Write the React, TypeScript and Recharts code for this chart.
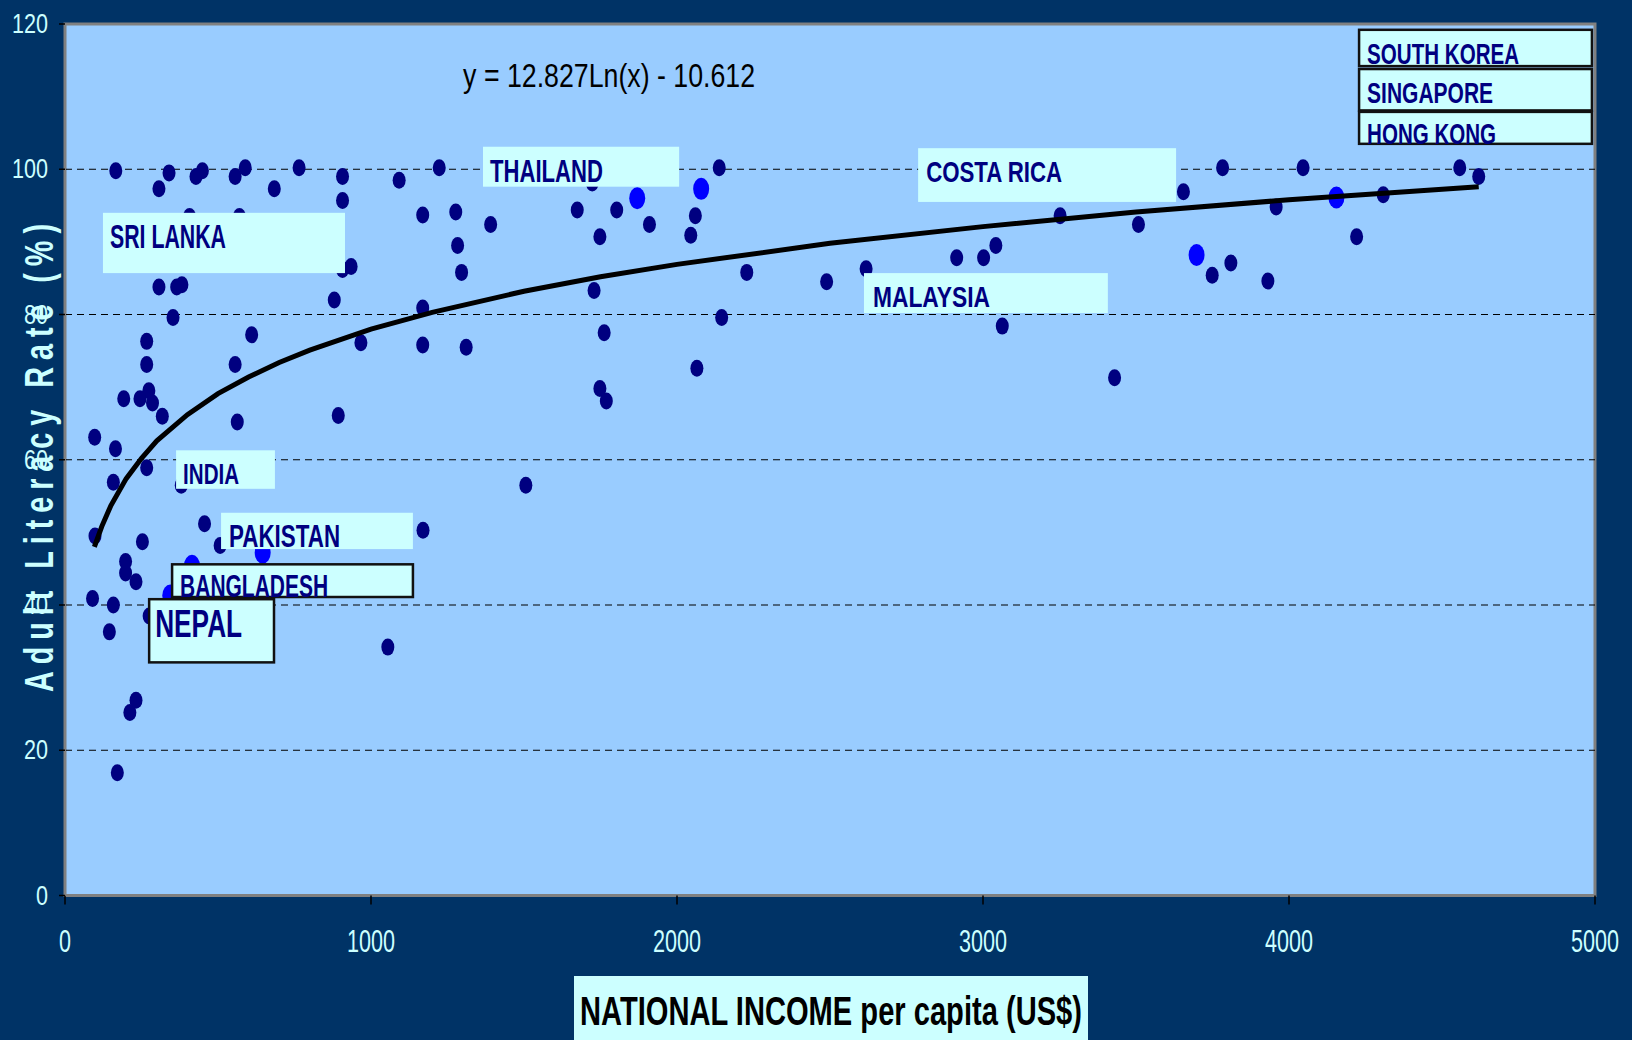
import React from "react";
import {
  ScatterChart,
  Scatter,
  XAxis,
  YAxis,
  CartesianGrid,
  ReferenceLine,
  ReferenceArea,
  ReferenceDot,
} from "recharts";

// national income per capita (US$) / adult literacy (%) – regular countries
const incomeNavy = [
  166, 307, 340, 428, 449, 556, 589, 684, 765, 907, 907, 1092, 407, 570, 307, 365, 382, 353, 880, 935,
  907, 267, 610, 967, 267, 556, 563, 893, 1169, 274, 192, 245, 286, 318, 97, 165, 267, 158, 380, 456,
  98, 253, 507, 198, 198, 232, 90, 158, 145, 232, 212, 171, 385, 367, 275, 1277, 1283, 1296, 1391, 1674,
  1748, 1803, 1910, 1729, 1723, 2060, 2045, 2138, 2228, 2489, 1762, 1748, 1769, 2146, 2065, 2618, 2914, 3002, 3042, 3063,
  3252, 3508, 3655, 3783, 3749, 3810, 3430, 3931, 3958, 4046, 4221, 4308, 4558, 4620, 1506, 1170, 1055, 1223, 1169, 1169,
  1311,
];
const literacyNavy = [
  99.8, 97.3, 99.5, 99.0, 99.8, 99.0, 100.2, 97.3, 100.2, 99.0, 95.7, 98.5, 93.5, 93.5, 83.8, 83.8, 84.1, 79.6, 82.0, 86.6,
  86.2, 76.3, 77.2, 76.1, 73.1, 73.1, 65.2, 66.1, 75.8, 69.5, 68.4, 68.4, 67.8, 66.0, 63.1, 61.5, 58.9, 56.9, 56.5, 51.2,
  49.5, 48.7, 48.2, 46.0, 44.4, 43.2, 40.9, 40.0, 36.3, 26.9, 25.2, 16.9, 41.3, 38.7, 38.5, 94.1, 89.5, 85.8, 92.4, 94.4,
  90.7, 94.4, 92.4, 83.3, 98.1, 93.6, 90.9, 100.2, 85.8, 84.5, 77.5, 69.8, 68.1, 79.6, 72.6, 86.3, 87.8, 87.8, 89.5, 78.4,
  93.6, 92.4, 96.9, 100.2, 85.4, 87.1, 71.3, 84.6, 94.8, 100.2, 90.7, 96.5, 100.2, 99.0, 56.5, 50.3, 34.2, 100.2, 93.7, 80.9,
  75.5,
];

// highlighted countries (bright blue markers)
const incomeBright = [646, 415, 344, 1870, 2079, 3698, 4155];
const literacyBright = [47.2, 45.4, 41.3, 96.0, 97.3, 88.2, 96.1];

// logarithmic trendline as drawn
const trendIncome = [96, 120, 150, 200, 250, 300, 400, 500, 600, 700, 800, 1000, 1200, 1500, 1750, 2000, 2500, 3000, 3500, 4000, 4620];
const trendLiteracy = [48.0, 50.8, 53.7, 57.4, 60.2, 62.6, 66.2, 69.1, 71.4, 73.4, 75.1, 78.0, 80.3, 83.2, 85.2, 86.9, 89.8, 92.1, 94.1, 95.8, 97.6];

const xTicks = [0, 1000, 2000, 3000, 4000, 5000];
const yTicks = [0, 20, 40, 60, 80, 100, 120];
const gridLevels = [20, 40, 60, 80, 100];

const equationText = "y = 12.827Ln(x) - 10.612";

const countryNotes = [
  { name: "SRI LANKA", x1: 124, x2: 915, y1: 85.7, y2: 94.0, boxed: false, size: 34, w: 116, dx: 7, dy: 35 },
  { name: "INDIA", x1: 363, x2: 686, y1: 56.0, y2: 61.3, boxed: false, size: 30, w: 56, dx: 7, dy: 34 },
  { name: "PAKISTAN", x1: 510, x2: 1137, y1: 47.7, y2: 52.7, boxed: false, size: 31, w: 111, dx: 8, dy: 34 },
  { name: "BANGLADESH", x1: 350, x2: 1137, y1: 41.1, y2: 45.6, boxed: true, size: 31, w: 148, dx: 8, dy: 33 },
  { name: "NEPAL", x1: 275, x2: 683, y1: 32.1, y2: 40.8, boxed: true, size: 38, w: 87, dx: 6, dy: 38 },
  { name: "THAILAND", x1: 1366, x2: 2007, y1: 97.6, y2: 103.1, boxed: false, size: 31, w: 113, dx: 7, dy: 35 },
  { name: "COSTA RICA", x1: 2788, x2: 3631, y1: 95.5, y2: 102.9, boxed: false, size: 30, w: 136, dx: 8, dy: 34 },
  { name: "MALAYSIA", x1: 2611, x2: 3408, y1: 80.2, y2: 85.7, boxed: false, size: 30, w: 117, dx: 9, dy: 34 },
  { name: "SOUTH KOREA", x1: 4229, x2: 4990, y1: 114.2, y2: 119.2, boxed: true, size: 30, w: 152, dx: 8, dy: 34 },
  { name: "SINGAPORE", x1: 4229, x2: 4990, y1: 108.1, y2: 113.8, boxed: true, size: 30, w: 126, dx: 8, dy: 34 },
  { name: "HONG KONG", x1: 4229, x2: 4990, y1: 103.5, y2: 107.9, boxed: true, size: 30, w: 129, dx: 8, dy: 32 },
];

const navyData = incomeNavy.map((x, i) => ({ x, y: literacyNavy[i] }));
const brightData = incomeBright.map((x, i) => ({ x, y: literacyBright[i] }));
const trendData = trendIncome.map((x, i) => ({ x, y: trendLiteracy[i] }));

const NARROW = "'Liberation Sans Narrow', 'Arial Narrow', 'Liberation Sans', Arial, sans-serif";
const PALE = "#CCFFFF";

const NavyDot = (p: any) => <ellipse cx={p.cx} cy={p.cy} rx={6.5} ry={8.5} fill="#000080" />;
const BrightDot = (p: any) => <ellipse cx={p.cx} cy={p.cy} rx={8} ry={11} fill="#0000FF" />;
const NoDot = () => <g />;

const YTick = (p: any) => {
  const s = String(p.payload.value);
  return (
    <text x={48} y={p.y + 9} textAnchor="end" fill={PALE} fontSize={27} fontFamily={NARROW}
      textLength={s.length * 12} lengthAdjust="spacingAndGlyphs">
      {s}
    </text>
  );
};

const XTick = (p: any) => {
  const s = String(p.payload.value);
  return (
    <text x={p.x} y={952} textAnchor="middle" fill={PALE} fontSize={31} fontFamily={NARROW}
      textLength={s.length * 12} lengthAdjust="spacingAndGlyphs">
      {s}
    </text>
  );
};

const XTitle = () => (
  <g>
    <rect x={574} y={976} width={514} height={70} fill={PALE} />
    <text x={580} y={1025} fill="#000" fontSize={40} fontWeight="bold" fontFamily={NARROW}
      textLength={502} lengthAdjust="spacingAndGlyphs">
      NATIONAL INCOME per capita (US$)
    </text>
  </g>
);

// squeezed glyphs, wide letter spacing, reading bottom to top
const YTitle = () => (
  <g transform="translate(38, 458) rotate(-90) scale(0.72, 1)">
    <text x={0} y={15} textAnchor="middle" fill={PALE} fontSize={40} fontWeight="bold"
      fontFamily="'Liberation Sans', Arial, sans-serif" textLength={650} lengthAdjust="spacing">
      Adult Literacy Rate (%)
    </text>
  </g>
);

export default function App() {
  return (
    <div style={{ position: "absolute", left: 0, top: 0, width: 1632, height: 1040, background: "#003366" }}>
      <ScatterChart width={1632} height={1040} margin={{ top: 24, right: 37, bottom: 0, left: 0 }}>
        <CartesianGrid horizontal={false} vertical={false} fill="#99CCFF" fillOpacity={1} />
        <XAxis
          type="number"
          dataKey="x"
          domain={[0, 5000]}
          ticks={xTicks}
          height={144.5}
          tickSize={9}
          axisLine={{ stroke: "#808080", strokeWidth: 2 }}
          tickLine={{ stroke: "#000", strokeWidth: 1.5 }}
          tick={<XTick />}
          label={{ content: () => <XTitle /> }}
          allowDataOverflow
        />
        <YAxis
          type="number"
          dataKey="y"
          domain={[0, 120]}
          ticks={yTicks}
          width={65}
          tickSize={6}
          axisLine={{ stroke: "#808080", strokeWidth: 2 }}
          tickLine={{ stroke: "#000", strokeWidth: 1.5 }}
          tick={<YTick />}
          label={{ content: () => <YTitle /> }}
          allowDataOverflow
        />
        {gridLevels.map((v) => (
          <ReferenceLine key={v} y={v} stroke="#000" strokeWidth={1} strokeDasharray="7 5" />
        ))}
        <ReferenceArea x1={0} x2={5000} y1={0} y2={120} fill="none" stroke="#808080" strokeWidth={3} />
        <Scatter data={navyData} shape={NavyDot} isAnimationActive={false} />
        <Scatter data={brightData} shape={BrightDot} isAnimationActive={false} />
        <Scatter
          data={trendData}
          shape={NoDot}
          line={{ stroke: "#000", strokeWidth: 5 }}
          lineType="joint"
          isAnimationActive={false}
        />
        {countryNotes.map((n) => (
          <ReferenceArea
            key={n.name}
            x1={n.x1}
            x2={n.x2}
            y1={n.y1}
            y2={n.y2}
            zIndex={2000}
            shape={(p: any) => (
              <g>
                <rect x={p.x} y={p.y} width={p.width} height={p.height} fill={PALE}
                  stroke={n.boxed ? "#111" : "none"} strokeWidth={2.5} />
                <text x={p.x + n.dx} y={p.y + n.dy} fill="#000080" fontSize={n.size} fontWeight="bold"
                  fontFamily={NARROW} textLength={n.w} lengthAdjust="spacingAndGlyphs">
                  {n.name}
                </text>
              </g>
            )}
          />
        ))}
        <ReferenceDot
          x={1301}
          y={111.3}
          zIndex={2000}
          shape={(p: any) => (
            <text x={p.cx} y={p.cy} fill="#000" fontSize={33} fontFamily={NARROW}
              textLength={292} lengthAdjust="spacingAndGlyphs">
              {equationText}
            </text>
          )}
        />
      </ScatterChart>
    </div>
  );
}
